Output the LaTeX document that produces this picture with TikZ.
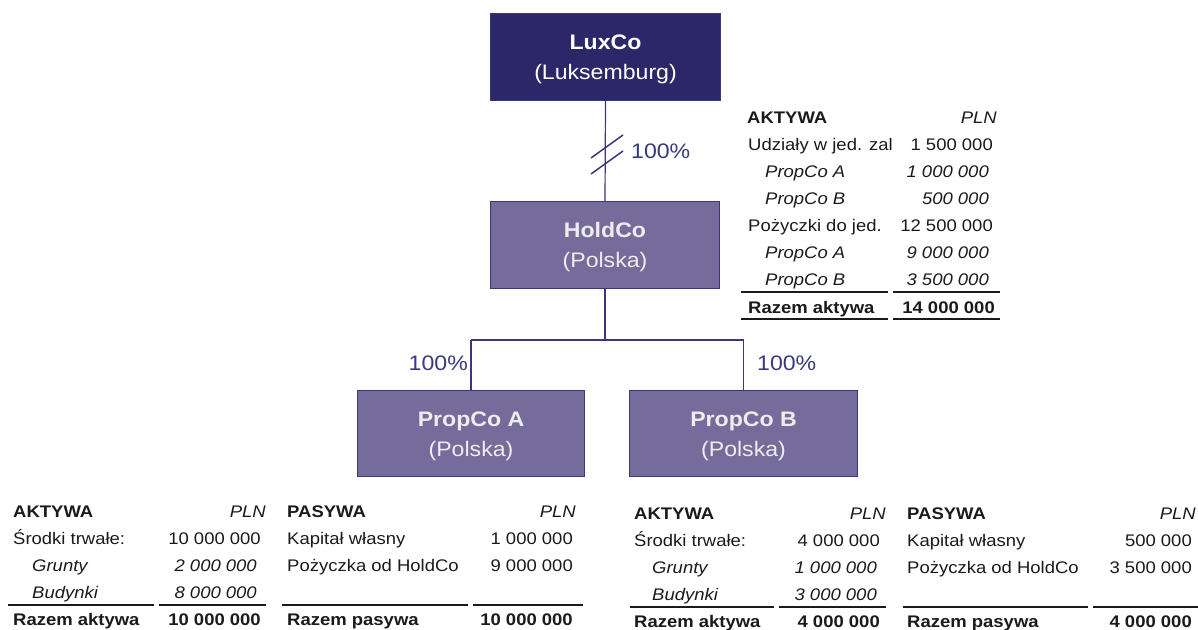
\documentclass[tikz,border=0pt]{standalone}
\usepackage{fontspec}
\setmainfont{Liberation Sans}[FakeStretch=1.1]
\definecolor{navy}{HTML}{2B2768}
\definecolor{purp}{HTML}{766C9C}
\definecolor{edgec}{HTML}{3B3779}
\definecolor{lbl}{HTML}{3A3880}
\definecolor{txt}{HTML}{1A1A1A}
\newcommand{\tabfont}{\fontsize{16.8}{20}\selectfont}
\newcommand{\topstrut}{\rule{0pt}{20pt}}
\begin{document}
\begin{tikzpicture}[x=1pt,y=-1pt,
  box/.style={draw=edgec, line width=1pt, minimum width=229pt, minimum height=87pt,
    anchor=north west, inner sep=0pt, align=center, text=white,
    font=\fontsize{21}{30}\selectfont},
  conn/.style={draw=edgec, line width=1.2pt},
  pct/.style={text=lbl, inner sep=0pt, font=\fontsize{21}{25}\selectfont},
  tl/.style={anchor=base west, inner sep=0pt, text=txt, font=\tabfont},
  tr/.style={anchor=base east, inner sep=0pt, text=txt, font=\tabfont},
  rulel/.style={draw=txt, line width=1.3pt}]
\useasboundingbox (0,0) rectangle (1198,629);

% boxes
\node[box, fill=navy, minimum width=230pt] (lux) at (490,13) {\topstrut\textbf{LuxCo}\\(Luksemburg)};
\node[box, fill=purp, text=white!93!black] (hold) at (490,201) {\topstrut\textbf{HoldCo}\\(Polska)};
\node[box, fill=purp, text=white!93!black, minimum width=227pt, minimum height=86pt] (pa) at (357,390) {\topstrut\textbf{PropCo A}\\(Polska)};
\node[box, fill=purp, text=white!93!black, minimum width=228pt, minimum height=86pt] (pb) at (629,390) {\topstrut\textbf{PropCo B}\\(Polska)};

% connectors
\draw[conn] (lux.south) -- (hold.north);
\draw[conn, line width=1.5pt] (591,158) -- (623,135);
\draw[conn, line width=1.5pt] (591,174) -- (623,151);
\node[pct, anchor=base west] (p1) at (631,158) {100\%};

\coordinate (j) at (hold.south |- 0,340);
\coordinate (ja) at (pa.north |- 0,340);
\coordinate (jb) at (pb.north |- 0,340);
\draw[conn] (hold.south) -- (j);
\draw[conn] (ja) -- (jb);
\draw[conn] (ja) -- (pa.north);
\draw[conn] (jb) -- (pb.north);
\node[pct, anchor=base east] (p2) at (468,370) {100\%};
\node[pct, anchor=base west] (p3) at (757,370) {100\%};

% HoldCo table
\node[tl] (h0) at (747,123) {\textbf{AKTYWA}};
\node[tr] (h0r) at (997,123) {\textit{PLN}};
\node[tl] (h1) at (748,150) {Udziały w jed. zal};
\node[tr] (h1r) at (993,150) {1 500 000};
\node[tl] (h2) at (765,177) {\textit{PropCo A}};
\node[tr] (h2r) at (989,177) {\textit{1 000 000}};
\node[tl] (h3) at (765,204) {\textit{PropCo B}};
\node[tr] (h3r) at (989,204) {\textit{500 000}};
\node[tl] (h4) at (748,231) {Pożyczki do jed.};
\node[tr] (h4r) at (993,231) {12 500 000};
\node[tl] (h5) at (765,258) {\textit{PropCo A}};
\node[tr] (h5r) at (989,258) {\textit{9 000 000}};
\node[tl] (h6) at (765,285) {\textit{PropCo B}};
\node[tr] (h6r) at (989,285) {\textit{3 500 000}};
\draw[rulel] (741,292) -- (888,292);
\draw[rulel] (893,292) -- (1000,292);
\node[tl] (h7) at (748,313) {\textbf{Razem aktywa}};
\node[tr] (h7r) at (995,313) {\textbf{14 000 000}};
\draw[rulel] (741,319) -- (888,319);
\draw[rulel] (893,319) -- (1000,319);

% PropCo A assets
\node[tl] (a0) at (13,517) {\textbf{AKTYWA}};
\node[tr] (a0r) at (266,517) {\textit{PLN}};
\node[tl] (a1) at (13,544) {Środki trwałe:};
\node[tr] (a1r) at (261,544) {10 000 000};
\node[tl] (a2) at (32,571) {\textit{Grunty}};
\node[tr] (a2r) at (257,571) {\textit{2 000 000}};
\node[tl] (a3) at (32,598) {\textit{Budynki}};
\node[tr] (a3r) at (257,598) {\textit{8 000 000}};
\draw[rulel] (8,605) -- (154,605);
\draw[rulel] (159,605) -- (266,605);
\node[tl] (a4) at (13,625) {\textbf{Razem aktywa}};
\node[tr] (a4r) at (261,625) {\textbf{10 000 000}};

% PropCo A liabilities
\node[tl] (b0) at (287,517) {\textbf{PASYWA}};
\node[tr] (b0r) at (576,517) {\textit{PLN}};
\node[tl] (b1) at (287,544) {Kapitał własny};
\node[tr] (b1r) at (573,544) {1 000 000};
\node[tl] (b2) at (287,571) {Pożyczka od HoldCo};
\node[tr] (b2r) at (573,571) {9 000 000};
\draw[rulel] (282,605) -- (468,605);
\draw[rulel] (473,605) -- (583,605);
\node[tl] (b4) at (287,625) {\textbf{Razem pasywa}};
\node[tr] (b4r) at (573,625) {\textbf{10 000 000}};

% PropCo B assets
\node[tl] (c0) at (634,519) {\textbf{AKTYWA}};
\node[tr] (c0r) at (886,519) {\textit{PLN}};
\node[tl] (c1) at (634,546) {Środki trwałe:};
\node[tr] (c1r) at (880,546) {4 000 000};
\node[tl] (c2) at (652,573) {\textit{Grunty}};
\node[tr] (c2r) at (877,573) {\textit{1 000 000}};
\node[tl] (c3) at (652,600) {\textit{Budynki}};
\node[tr] (c3r) at (877,600) {\textit{3 000 000}};
\draw[rulel] (630,607) -- (774,607);
\draw[rulel] (779,607) -- (886,607);
\node[tl] (c4) at (634,627) {\textbf{Razem aktywa}};
\node[tr] (c4r) at (880,627) {\textbf{4 000 000}};

% PropCo B liabilities
\node[tl] (d0) at (907,519) {\textbf{PASYWA}};
\node[tr] (d0r) at (1196,519) {\textit{PLN}};
\node[tl] (d1) at (907,546) {Kapitał własny};
\node[tr] (d1r) at (1192,546) {500 000};
\node[tl] (d2) at (907,573) {Pożyczka od HoldCo};
\node[tr] (d2r) at (1192,573) {3 500 000};
\draw[rulel] (903,607) -- (1088,607);
\draw[rulel] (1093,607) -- (1198,607);
\node[tl] (d4) at (907,627) {\textbf{Razem pasywa}};
\node[tr] (d4r) at (1192,627) {\textbf{4 000 000}};
\end{tikzpicture}
\end{document}
